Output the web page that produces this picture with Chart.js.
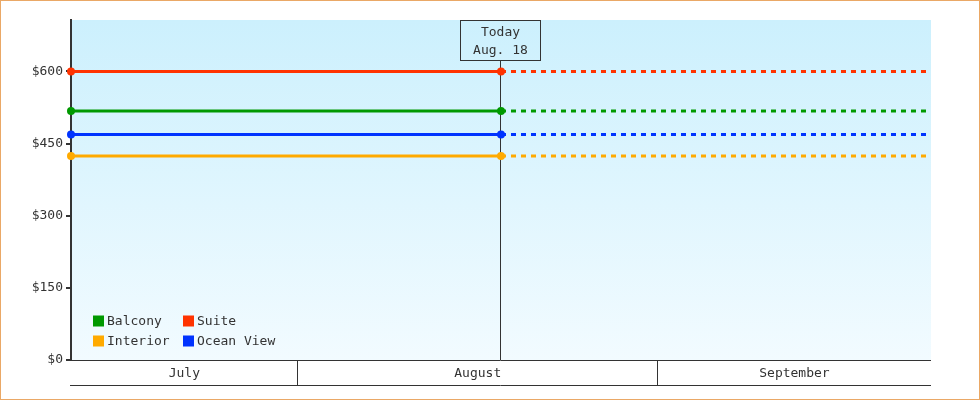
<!DOCTYPE html>
<html>
<head>
<meta charset="utf-8">
<script src="https://cdn.jsdelivr.net/npm/chart.js@4/dist/chart.umd.min.js"></script>
<style>
  body { margin: 0; background: #fff; }
</style>
</head>
<body>
<canvas id="grafico" width="980" height="400"></canvas>
<script>
// Cabin prices
const seriesNames = ['Balcony', 'Suite', 'Interior', 'Ocean View'];
const seriesPrices = [518, 600, 424, 469];
const seriesColors = ['#009900', '#ff3300', '#ffaa00', '#0033ff'];

// x axis in days counted from July 1
const months = ['July', 'August', 'September'];
const monthStarts = [0, 31, 62, 92];
const rangeStart = 11.5;
const rangeEnd = 85.5;
const todayDay = 48.5;
const todayLabel = ['Today', 'Aug. 18'];

// y axis
const yTicks = [0, 150, 300, 450, 600];
const yMax = 707;

const FONT = 'DejaVu Sans Mono';
const INK = '#333';

// one dataset per cabin: solid up to today, dashed afterwards
const datasets = seriesNames.map((name, i) => ({
  label: name,
  data: [
    { x: rangeStart, y: seriesPrices[i] },
    { x: todayDay, y: seriesPrices[i] },
    { x: rangeEnd, y: seriesPrices[i] }
  ],
  borderColor: seriesColors[i],
  backgroundColor: seriesColors[i],
  borderWidth: 3,
  pointRadius: ctx => ctx.dataIndex < 2 ? 4 : 0,
  pointHoverRadius: 4,
  pointBorderWidth: 0,
  clip: false,
  segment: {
    borderDash: ctx => ctx.p0.parsed.x >= todayDay ? [5, 5] : undefined
  }
}));

// gradient behind the plot
const fundo = {
  id: 'fundo',
  beforeDraw(chart) {
    const { ctx, chartArea: a } = chart;
    const g = ctx.createLinearGradient(0, a.top, 0, a.bottom);
    g.addColorStop(0, '#ccf0fd');
    g.addColorStop(1, '#f2fbff');
    ctx.save();
    ctx.fillStyle = g;
    ctx.fillRect(a.left, a.top, a.right - a.left, a.bottom - a.top);
    ctx.restore();
  }
};

// "Today" box and vertical marker
const hoje = {
  id: 'hoje',
  beforeDatasetsDraw(chart) {
    const { ctx, chartArea: a, scales } = chart;
    const x = Math.round(scales.x.getPixelForValue(todayDay)) - 0.5;
    ctx.save();
    ctx.strokeStyle = INK;
    ctx.lineWidth = 1;
    ctx.strokeRect(x - 40, a.top + 0.5, 80, 40);
    ctx.beginPath();
    ctx.moveTo(x, a.top + 40.5);
    ctx.lineTo(x, a.bottom);
    ctx.stroke();
    ctx.fillStyle = INK;
    ctx.font = '13px "' + FONT + '"';
    ctx.textAlign = 'center';
    ctx.textBaseline = 'middle';
    ctx.fillText(todayLabel[0], x, a.top + 13);
    ctx.fillText(todayLabel[1], x, a.top + 31);
    ctx.restore();
  }
};

// month band under the plot
const meses = {
  id: 'meses',
  afterDraw(chart) {
    const { ctx, chartArea: a, scales } = chart;
    const bandBottom = a.bottom + 25.5;
    ctx.save();
    ctx.strokeStyle = INK;
    ctx.lineWidth = 1;
    ctx.beginPath();
    ctx.moveTo(a.left - 1, a.bottom + 0.5);
    ctx.lineTo(a.right, a.bottom + 0.5);
    ctx.moveTo(a.left - 1, bandBottom);
    ctx.lineTo(a.right, bandBottom);
    ctx.stroke();
    ctx.fillStyle = INK;
    ctx.font = '13px "' + FONT + '"';
    ctx.textAlign = 'center';
    ctx.textBaseline = 'middle';
    months.forEach((m, i) => {
      const s = Math.max(monthStarts[i], rangeStart);
      const e = Math.min(monthStarts[i + 1], rangeEnd);
      const x0 = scales.x.getPixelForValue(s);
      const x1 = scales.x.getPixelForValue(e);
      if (monthStarts[i] > rangeStart) {
        const xs = Math.round(x0) - 0.5;
        ctx.beginPath();
        ctx.moveTo(xs, a.bottom);
        ctx.lineTo(xs, bandBottom);
        ctx.stroke();
      }
      ctx.fillText(m, (x0 + x1) / 2, a.bottom + 14);
    });
    ctx.restore();
  }
};

// 2x2 legend inside the plot, bottom left
const legenda = {
  id: 'legenda',
  afterDatasetsDraw(chart) {
    const { ctx, chartArea: a } = chart;
    ctx.save();
    ctx.font = '13px "' + FONT + '"';
    ctx.textBaseline = 'middle';
    ctx.textAlign = 'left';
    seriesNames.forEach((name, i) => {
      const x = a.left + 22 + (i % 2) * 90;
      const y = a.bottom - 39.5 + Math.floor(i / 2) * 20;
      ctx.fillStyle = seriesColors[i];
      ctx.fillRect(x, y - 5, 11, 11);
      ctx.fillStyle = INK;
      ctx.fillText(name, x + 14, y + 1);
    });
    ctx.restore();
  }
};

// orange frame around the whole picture
const moldura = {
  id: 'moldura',
  afterDraw(chart) {
    const ctx = chart.ctx;
    ctx.save();
    ctx.strokeStyle = '#eaa866';
    ctx.lineWidth = 1;
    ctx.strokeRect(0.5, 0.5, chart.width - 1, chart.height - 1);
    ctx.restore();
  }
};

const grafico = new Chart(document.getElementById('grafico'), {
  type: 'line',
  data: { datasets },
  plugins: [fundo, hoje, meses, legenda, moldura],
  options: {
    responsive: false,
    devicePixelRatio: 1,
    animation: false,
    layout: { padding: { top: 20, right: 49, bottom: 40, left: 0 } },
    plugins: { legend: { display: false }, tooltip: { enabled: false } },
    scales: {
      x: { type: 'linear', min: rangeStart, max: rangeEnd, display: false },
      y: {
        min: 0,
        max: yMax,
        afterFit(scale) { scale.width = 71; },
        afterBuildTicks(scale) { scale.ticks = yTicks.map(v => ({ value: v })); },
        grid: { drawOnChartArea: false, drawTicks: true, tickLength: 5, color: INK, lineWidth: 2 },
        border: { color: INK, width: 2 },
        ticks: {
          padding: 3,
          color: INK,
          font: { family: FONT, size: 13 },
          callback: v => '$' + v
        }
      }
    }
  }
});
</script>
</body>
</html>
